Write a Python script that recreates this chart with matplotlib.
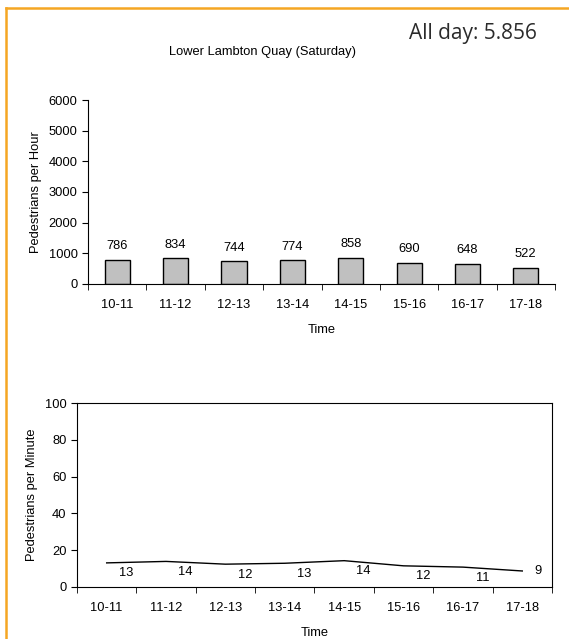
import matplotlib
matplotlib.use("Agg")
import matplotlib.pyplot as plt
import numpy as np

# data
times = ["10-11", "11-12", "12-13", "13-14", "14-15", "15-16", "16-17", "17-18"]
per_hour = [786, 834, 744, 774, 858, 690, 648, 522]
per_minute = [13.1, 13.9, 12.4, 12.9, 14.3, 11.5, 10.8, 8.7]
minute_labels = ["13", "14", "12", "13", "14", "12", "11", "9"]

plt.rcParams['font.family'] = ['Liberation Sans', 'DejaVu Sans']
plt.rcParams['font.size'] = 9.3

fig = plt.figure(figsize=(5.69, 6.39), dpi=100)
x = np.arange(len(times))

# upper chart: bars
ax1 = fig.add_axes([0.1547, 0.5556, 0.8207, 0.2879])
ax1.bar(x, per_hour, width=0.43, color='#c0c0c0', edgecolor='black', linewidth=1)
for i, v in enumerate(per_hour):
    ax1.annotate(str(v), (x[i], v), xytext=(0, 5.5), textcoords='offset points',
                 ha='center', va='bottom')
ax1.set_xlim(-0.5, len(times) - 0.5)
ax1.set_ylim(0, 6000)
ax1.set_yticks(range(0, 6001, 1000))
ax1.set_xticks(x)
ax1.set_xticklabels(times)
ax1.set_xticks(np.arange(-0.5, len(times)), minor=True)
ax1.tick_params(axis='x', which='major', length=0, pad=11)
ax1.tick_params(axis='x', which='minor', length=4, direction='out')
ax1.tick_params(axis='y', length=4, direction='out')
ax1.spines['top'].set_visible(False)
ax1.spines['right'].set_visible(False)
ax1.set_ylabel("Pedestrians per Hour", labelpad=5)
ax1.set_xlabel("Time", labelpad=9)
fig.text(0.462, 0.919, "Lower Lambton Quay (Saturday)", ha='center', va='center')
fig.text(0.718, 0.947, "All day: 5.856", ha='left', va='center', fontsize=15,
         family=['Open Sans', 'DejaVu Sans'], color='#2b2b2b')

# lower chart: line
ax2 = fig.add_axes([0.1353, 0.0814, 0.8348, 0.2879])
ax2.plot(x, per_minute, color='black', linewidth=1)
for i, (v, lab) in enumerate(zip(per_minute, minute_labels)):
    if i == len(times) - 1:
        ax2.annotate(lab, (x[i], v), xytext=(9, 0), textcoords='offset points',
                     ha='left', va='center')
    else:
        ax2.annotate(lab, (x[i], v), xytext=(14, -7.5), textcoords='offset points',
                     ha='center', va='center')
ax2.set_xlim(-0.5, len(times) - 0.5)
ax2.set_ylim(0, 100)
ax2.set_yticks(range(0, 101, 20))
ax2.set_xticks(x)
ax2.set_xticklabels(times)
ax2.set_xticks(np.arange(-0.5, len(times)), minor=True)
ax2.tick_params(axis='x', which='major', length=0, pad=11)
ax2.tick_params(axis='x', which='minor', length=4, direction='out')
ax2.tick_params(axis='y', length=4, direction='out')
ax2.set_ylabel("Pedestrians per Minute", labelpad=5)
ax2.set_xlabel("Time", labelpad=9)

# orange frame lines on top and left
fig.add_artist(plt.Line2D([0.0105, 1], [1 - 8 / 639, 1 - 8 / 639], color='#f5a623', linewidth=1.8))
fig.add_artist(plt.Line2D([0.0105, 0.0105], [0, 1 - 8 / 639], color='#f5a623', linewidth=1.8))

fig.savefig("out.png", dpi=100)
